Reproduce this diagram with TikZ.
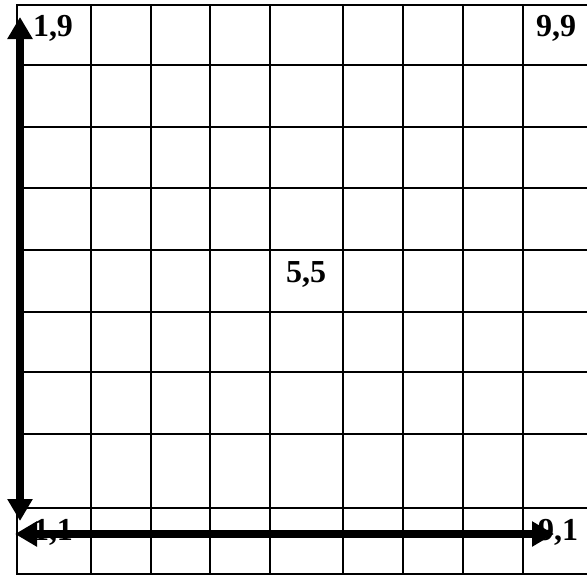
\documentclass[tikz,border=0pt]{standalone}
\usepackage{fontspec}
\setmainfont{Liberation Serif}
\usetikzlibrary{arrows.meta}

\begin{document}
\begin{tikzpicture}[
    x=1pt, y=-1pt,
    gridline/.style={draw=black, line width=2pt, line cap=rect},
    axis/.style={draw=black, line width=8pt, {Triangle[length=22pt,width=24pt]}-{Triangle[length=22pt,width=24pt]}},
    point/.style={font=\fontsize{32}{32}\selectfont\bfseries, inner sep=0pt, anchor=base}
]
\useasboundingbox (0,0) rectangle (587,576);

% Grid
\foreach \x in {17,91,151,210,270,343,403,463,523}
    \draw[gridline] (\x,5) -- (\x,574);
\foreach \y in {5,65,127,188,250,312,372,434,508,574}
    \draw[gridline] (17,\y) -- (587,\y);

% Axis ends
\coordinate (top) at (20,17);
\coordinate (bottom) at (20,521);
\coordinate (left) at (15,534);
\coordinate (right) at (554,534);

% Labels
\node[point] (p19) at (53,36) {1,9};
\node[point] (p99) at (556,36) {9,9};
\node[point] (p55) at (306,282) {5,5};
\node[point] (p11) at (53,540) {1,1};
\node[point] (p91) at (558,540) {9,1};

% Axes
\path[axis] (top) -- (bottom);
\path[axis] (left) -- (right);

\end{tikzpicture}
\end{document}
